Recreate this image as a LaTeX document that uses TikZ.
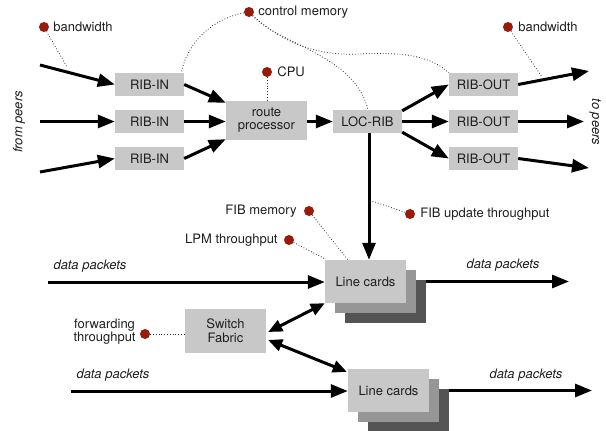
\documentclass[tikz,border=0pt]{standalone}
\usepackage{fontspec}
\setmainfont{TeX Gyre Heros}
\usetikzlibrary{arrows.meta,calc}
\definecolor{boxgray}{HTML}{C8C8C8}
\definecolor{midgray}{HTML}{969696}
\definecolor{darkgray}{HTML}{545454}
\definecolor{dotred}{HTML}{9A1A0A}
\definecolor{txt}{HTML}{1E1E1E}
\begin{document}
\begin{tikzpicture}[x=1pt,y=-1pt,
  every node/.style={font=\fontsize{13}{15}\selectfont, text=txt},
  box/.style={fill=boxgray, minimum width=69pt, minimum height=23pt, inner sep=0pt},
  bigbox/.style={fill=boxgray, minimum width=81pt, minimum height=43pt, inner sep=0pt, align=center},
  shade1/.style={fill=midgray, minimum width=81pt, minimum height=43pt, inner sep=0pt},
  shade2/.style={fill=darkgray, minimum width=81pt, minimum height=43pt, inner sep=0pt},
  arr/.style={line width=3pt, -{Triangle[length=17pt,width=13pt]}},
  darr/.style={line width=3pt, {Triangle[length=14pt,width=12pt]}-{Triangle[length=14pt,width=12pt]}},
  dots/.style={dotted, line width=0.8pt, black!80},
  metric/.style={circle, fill=dotred, minimum size=10pt, inner sep=0pt},
  lbl/.style={inner sep=1pt},
  ital/.style={font=\fontsize{13}{15}\selectfont\itshape}]
\useasboundingbox (0,0) rectangle (606,431);

% control plane boxes
\node[box] (ri1) at (149.5,84.5) {RIB-IN};
\node[box] (ri2) at (149.5,121.5) {RIB-IN};
\node[box] (ri3) at (149.5,158.5) {RIB-IN};
\node[box, minimum width=81pt, minimum height=39pt, align=center] (rp) at (266.5,120.5) {route\\[-2pt]processor};
\node[box] (lr) at (367.5,121.5) {LOC-RIB};
\node[box] (ro1) at (483.5,84.5) {RIB-OUT};
\node[box] (ro2) at (483.5,121.5) {RIB-OUT};
\node[box] (ro3) at (483.5,158.5) {RIB-OUT};

% stacked line cards
\node[shade2] (lc1c) at (385.5,301.5) {};
\node[shade1] (lc1b) at (375.5,291.5) {};
\node[bigbox] (lc1) at (365.5,281.5) {Line cards};
\node[shade2] (lc2c) at (408.5,410.5) {};
\node[shade1] (lc2b) at (398.5,400.5) {};
\node[bigbox] (lc2) at (388.5,390.5) {Line cards};
\node[bigbox, minimum height=44pt] (sf) at (225.5,331) {Switch\\[-1pt]Fabric};

% peer side labels
\node[ital, rotate=90] (from) at (19,122) {from peers};
\node[ital, rotate=-90] (to) at (595,122) {to peers};

% free ends of the connectors
\coordinate (i1) at (40,65);
\coordinate (i2) at (40,121.5);
\coordinate (i3) at (40,172);
\coordinate (o1) at (589,71);
\coordinate (o2) at (584,121.5);
\coordinate (o3) at (589,168);
\coordinate (dpin1) at (48,282);
\coordinate (dpout1) at (569,281.5);
\coordinate (dpin2) at (71,391);
\coordinate (dpout2) at (592,390.5);

% sessions into and out of the router
\draw[arr] (i1) -- (ri1.west);
\draw[arr] (i2) -- (ri2.west);
\draw[arr] (i3) -- (ri3.west);
\draw[arr] (ri1.east) -- ($(rp.north west)+(0,2)$);
\draw[arr] (ri2.east) -- (rp.west |- ri2.east);
\draw[arr] (ri3.east) -- ($(rp.south west)+(0,-1)$);
\draw[arr] (rp.east |- lr.west) -- (lr.west);
\draw[arr] ($(lr.north east)+(0,1)$) -- (ro1.west);
\draw[arr] (lr.east) -- (ro2.west);
\draw[arr] ($(lr.south east)+(0,-1)$) -- (ro3.west);
\draw[arr] (ro1.east) -- (o1);
\draw[arr] (ro2.east) -- (o2);
\draw[arr] (ro3.east) -- (o3);
\draw[arr] ($(lr.south)+(1.5,0)$) -- (lc1.north -| {$(lr.south)+(1.5,0)$});

% data plane
\draw[arr] (dpin1) -- (dpin1 -| lc1.west);
\draw[arr] (lc1c.east |- lc1.east) -- (dpout1);
\draw[arr] (dpin2) -- (dpin2 -| lc2.west);
\draw[arr] (lc2c.east |- lc2.east) -- (dpout2);
\draw[darr] ($(sf.east)+(2,1)$) -- (lc1.south west);
\draw[darr] ($(sf.east)+(2,9)$) -- ($(lc2.north west)+(-1,3)$);

\node[ital, anchor=south] (dp1) at (90,276) {data packets};
\node[ital, anchor=south] (dp2) at (503,275) {data packets};
\node[ital, anchor=south] (dp3) at (113,385) {data packets};
\node[ital, anchor=south] (dp4) at (526,385) {data packets};

% resource markers
\node[metric] (mbw1) at (44,27) {};
\node[lbl, anchor=west] at ($(mbw1.east)+(3,0)$) {bandwidth};
\node[metric] (mcm) at (249,12) {};
\node[lbl, anchor=west] at ($(mcm.east)+(3,0)$) {control memory};
\node[metric] (mcpu) at (267,72) {};
\node[lbl, anchor=west] at ($(mcpu.east)+(4,0)$) {CPU};
\node[metric] (mbw2) at (508,27) {};
\node[lbl, anchor=west] at ($(mbw2.east)+(4,0)$) {bandwidth};
\node[metric] (mfib) at (309,211) {};
\node[lbl, anchor=east] at ($(mfib.west)+(-6,0)$) {FIB memory};
\node[metric] (mlpm) at (289,240) {};
\node[lbl, anchor=east] at ($(mlpm.west)+(-5,0)$) {LPM throughput};
\node[metric] (mfu) at (410,214) {};
\node[lbl, anchor=west] at ($(mfu.east)+(4,0)$) {FIB update throughput};
\node[metric] (mfw) at (145,334) {};
\node[lbl, anchor=east, align=center] at ($(mfw.west)+(-3,-2)$) {forwarding\\[-2pt]throughput};

% dotted attachments
\coordinate (a1) at (67,67);
\coordinate (a2) at (542,77);
\coordinate (a3) at (372,201);
\draw[dots] (mbw1) -- (a1);
\draw[dots] (mbw2) -- (a2);
\draw[dots] (mcpu) -- (rp.north -| mcpu);
\draw[dots] (mcm) .. controls (215,18) and (188,40) .. ($(ri1.north east)+(-3,0)$);
\draw[dots] (mcm) .. controls (280,45) and (355,55) .. ($(lr.north)+(0.5,0)$);
\draw[dots] (mcm) .. controls (285,45) and (320,56) .. (360,54) .. controls (400,52) and (430,55) .. (ro1.north west);
\draw[dots] (mfu) -- (a3);
\draw[dots] (mfib) -- ($(lc1.north west)+(23,0)$);
\draw[dots] (mlpm) -- ($(lc1.north west)+(0,-1)$);
\draw[dots] (mfw) -- (sf.west |- mfw);
\end{tikzpicture}
\end{document}
